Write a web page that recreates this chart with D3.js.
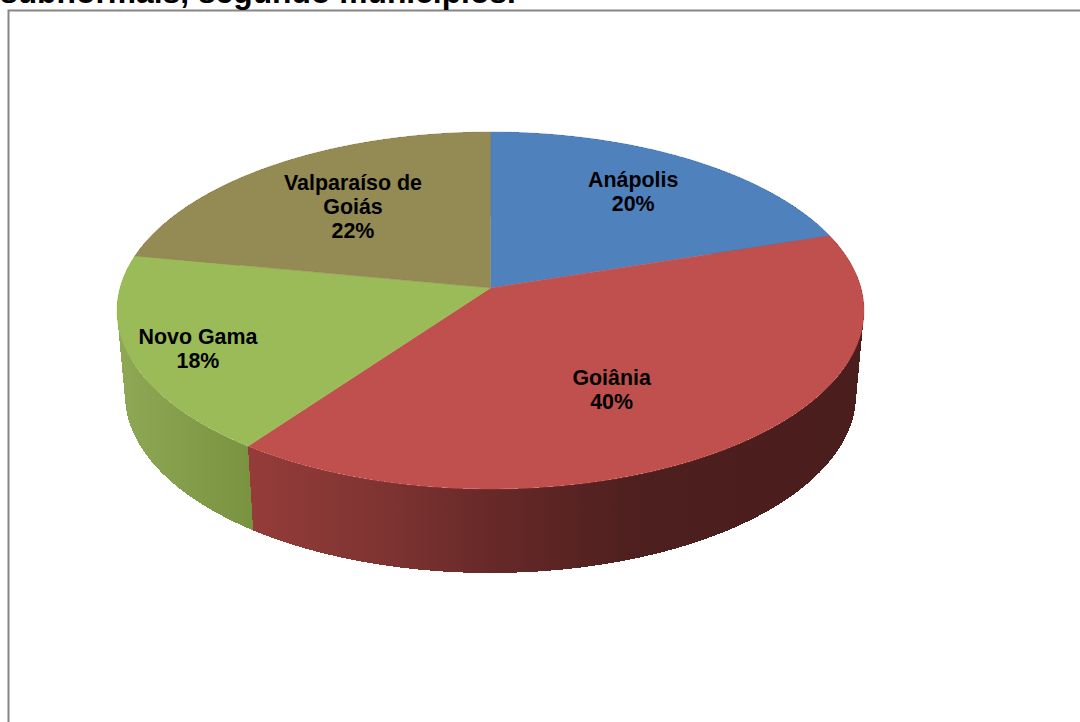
<!DOCTYPE html>
<html>
<head>
<meta charset="utf-8">
<script src="https://cdn.jsdelivr.net/npm/d3@7"></script>
<style>
html,body{margin:0;padding:0;background:#fff;overflow:hidden}
svg{display:block}
text{font-family:"Liberation Sans",Arial,sans-serif;font-weight:bold;fill:#000}
</style>
</head>
<body>
<svg id="chart" width="1080" height="722"></svg>
<script>
// Share of subnormal settlements per municipality
const municipalities = ["Anápolis", "Goiânia", "Novo Gama", "Valparaíso de Goiás"];
const shares = [20, 40, 18, 22];
const labelLines = [["Anápolis"], ["Goiânia"], ["Novo Gama"], ["Valparaíso de", "Goiás"]];
const topColors = ["#4f81bd", "#c0504d", "#9bbb59", "#948a54"];
const titleText = "subnormais, segundo municípios.";

// Side wall shading runs left to right along the screen: [x, colour] stops
const sideShade = [
  [[0, "#3a5f8c"], [1080, "#3a5f8c"]],
  [[249, "#953c3a"], [380, "#7f3432"], [490, "#672928"], [640, "#4d1f1e"], [864, "#4a1e1d"]],
  [[118, "#8ea855"], [250, "#7a9341"]],
  [[0, "#6e6640"], [1080, "#6e6640"]]
];

// Disc geometry on screen
const topRim = {cx: 490.5, cy: 310.5, rx: 373.5, ry: 178.5};
const baseRim = {cx: 490.5, cy: 395, rx: 365.5, ry: 178};
const tilt = -0.126;   // moves the projected hub above the ellipse centre
const labelRadius = 0.66;
const labelNudge = [[8, -8], [-33, 1], [-58, 17], [9, 3]];

const svg = d3.select("#chart");
const defs = svg.append("defs");

// Frame of the chart area, running off the page on the right and bottom
svg.append("path")
  .attr("d", d3.line()([[8.5, 722], [8.5, 10.5], [1080, 10.5]]))
  .attr("fill", "none").attr("stroke", "#868686").attr("stroke-width", 2);

svg.append("text").attr("x", 0).attr("y", 3)
  .attr("font-size", 31.8).text(titleText);

const slices = d3.pie().sort(null)(shares);

// Perspective map from a unit disc (angle clockwise from the top) to the screen
function project(angle, r, rim) {
  const u = Math.sin(angle) * r, v = -Math.cos(angle) * r;
  const den = 1 + tilt * v;
  return [
    rim.cx + rim.rx * u * Math.sqrt(1 - tilt * tilt) / den,
    rim.cy + rim.ry * (v + tilt) / den
  ];
}

const stepAngle = Math.PI / 180;
function anglesOf(s) {
  const n = Math.max(2, Math.ceil((s.endAngle - s.startAngle) / stepAngle));
  return d3.range(n + 1).map(i => s.startAngle + (s.endAngle - s.startAngle) * i / n);
}

// One horizontal gradient per slice for its side wall
sideShade.forEach((stops, i) => {
  const x0 = stops[0][0], x1 = stops[stops.length - 1][0];
  const grad = defs.append("linearGradient").attr("id", "side" + i)
    .attr("gradientUnits", "userSpaceOnUse")
    .attr("x1", x0).attr("x2", x1).attr("y1", 0).attr("y2", 0);
  stops.forEach(([x, c]) => grad.append("stop")
    .attr("offset", (x - x0) / (x1 - x0)).attr("stop-color", c));
});

// Side walls built from narrow quads, slices further back first;
// non-antialiased edges keep neighbouring quads free of seams
const wallQuads = [];
slices.forEach((s, i) => {
  d3.pairs(anglesOf(s)).forEach(([a0, a1]) => wallQuads.push({i, a0, a1}));
});
wallQuads.sort((p, q) => project(p.a0, 1, topRim)[1] - project(q.a0, 1, topRim)[1]);

svg.append("g").attr("shape-rendering", "crispEdges")
  .selectAll("path").data(wallQuads).join("path")
  .attr("d", d => d3.line()([
    project(d.a0, 1, topRim), project(d.a1, 1, topRim),
    project(d.a1, 1, baseRim), project(d.a0, 1, baseRim)
  ]) + "Z")
  .attr("fill", d => `url(#side${d.i})`);

// Top face; a hairline stroke closes the seams between neighbouring slices
svg.append("g").selectAll("path").data(slices).join("path")
  .attr("d", s => d3.line()([project(0, 0, topRim), ...anglesOf(s).map(a => project(a, 1, topRim))]) + "Z")
  .attr("fill", (s, i) => topColors[i])
  .attr("stroke", (s, i) => topColors[i])
  .attr("stroke-width", 0.4);

// Category and percentage labels
const lineGap = 24;
const labels = svg.append("g").attr("text-anchor", "middle").attr("font-size", 21.4);
slices.forEach((s, i) => {
  const [x, y] = project((s.startAngle + s.endAngle) / 2, labelRadius, topRim);
  const rows = [...labelLines[i], Math.round(s.data / d3.sum(shares) * 100) + "%"];
  const t = labels.append("text")
    .attr("aria-label", municipalities[i]);
  rows.forEach((row, k) => {
    t.append("tspan")
      .attr("x", x + labelNudge[i][0])
      .attr("y", y + labelNudge[i][1] + 7 + (k - (rows.length - 1) / 2) * lineGap)
      .text(row);
  });
});
</script>
</body>
</html>
